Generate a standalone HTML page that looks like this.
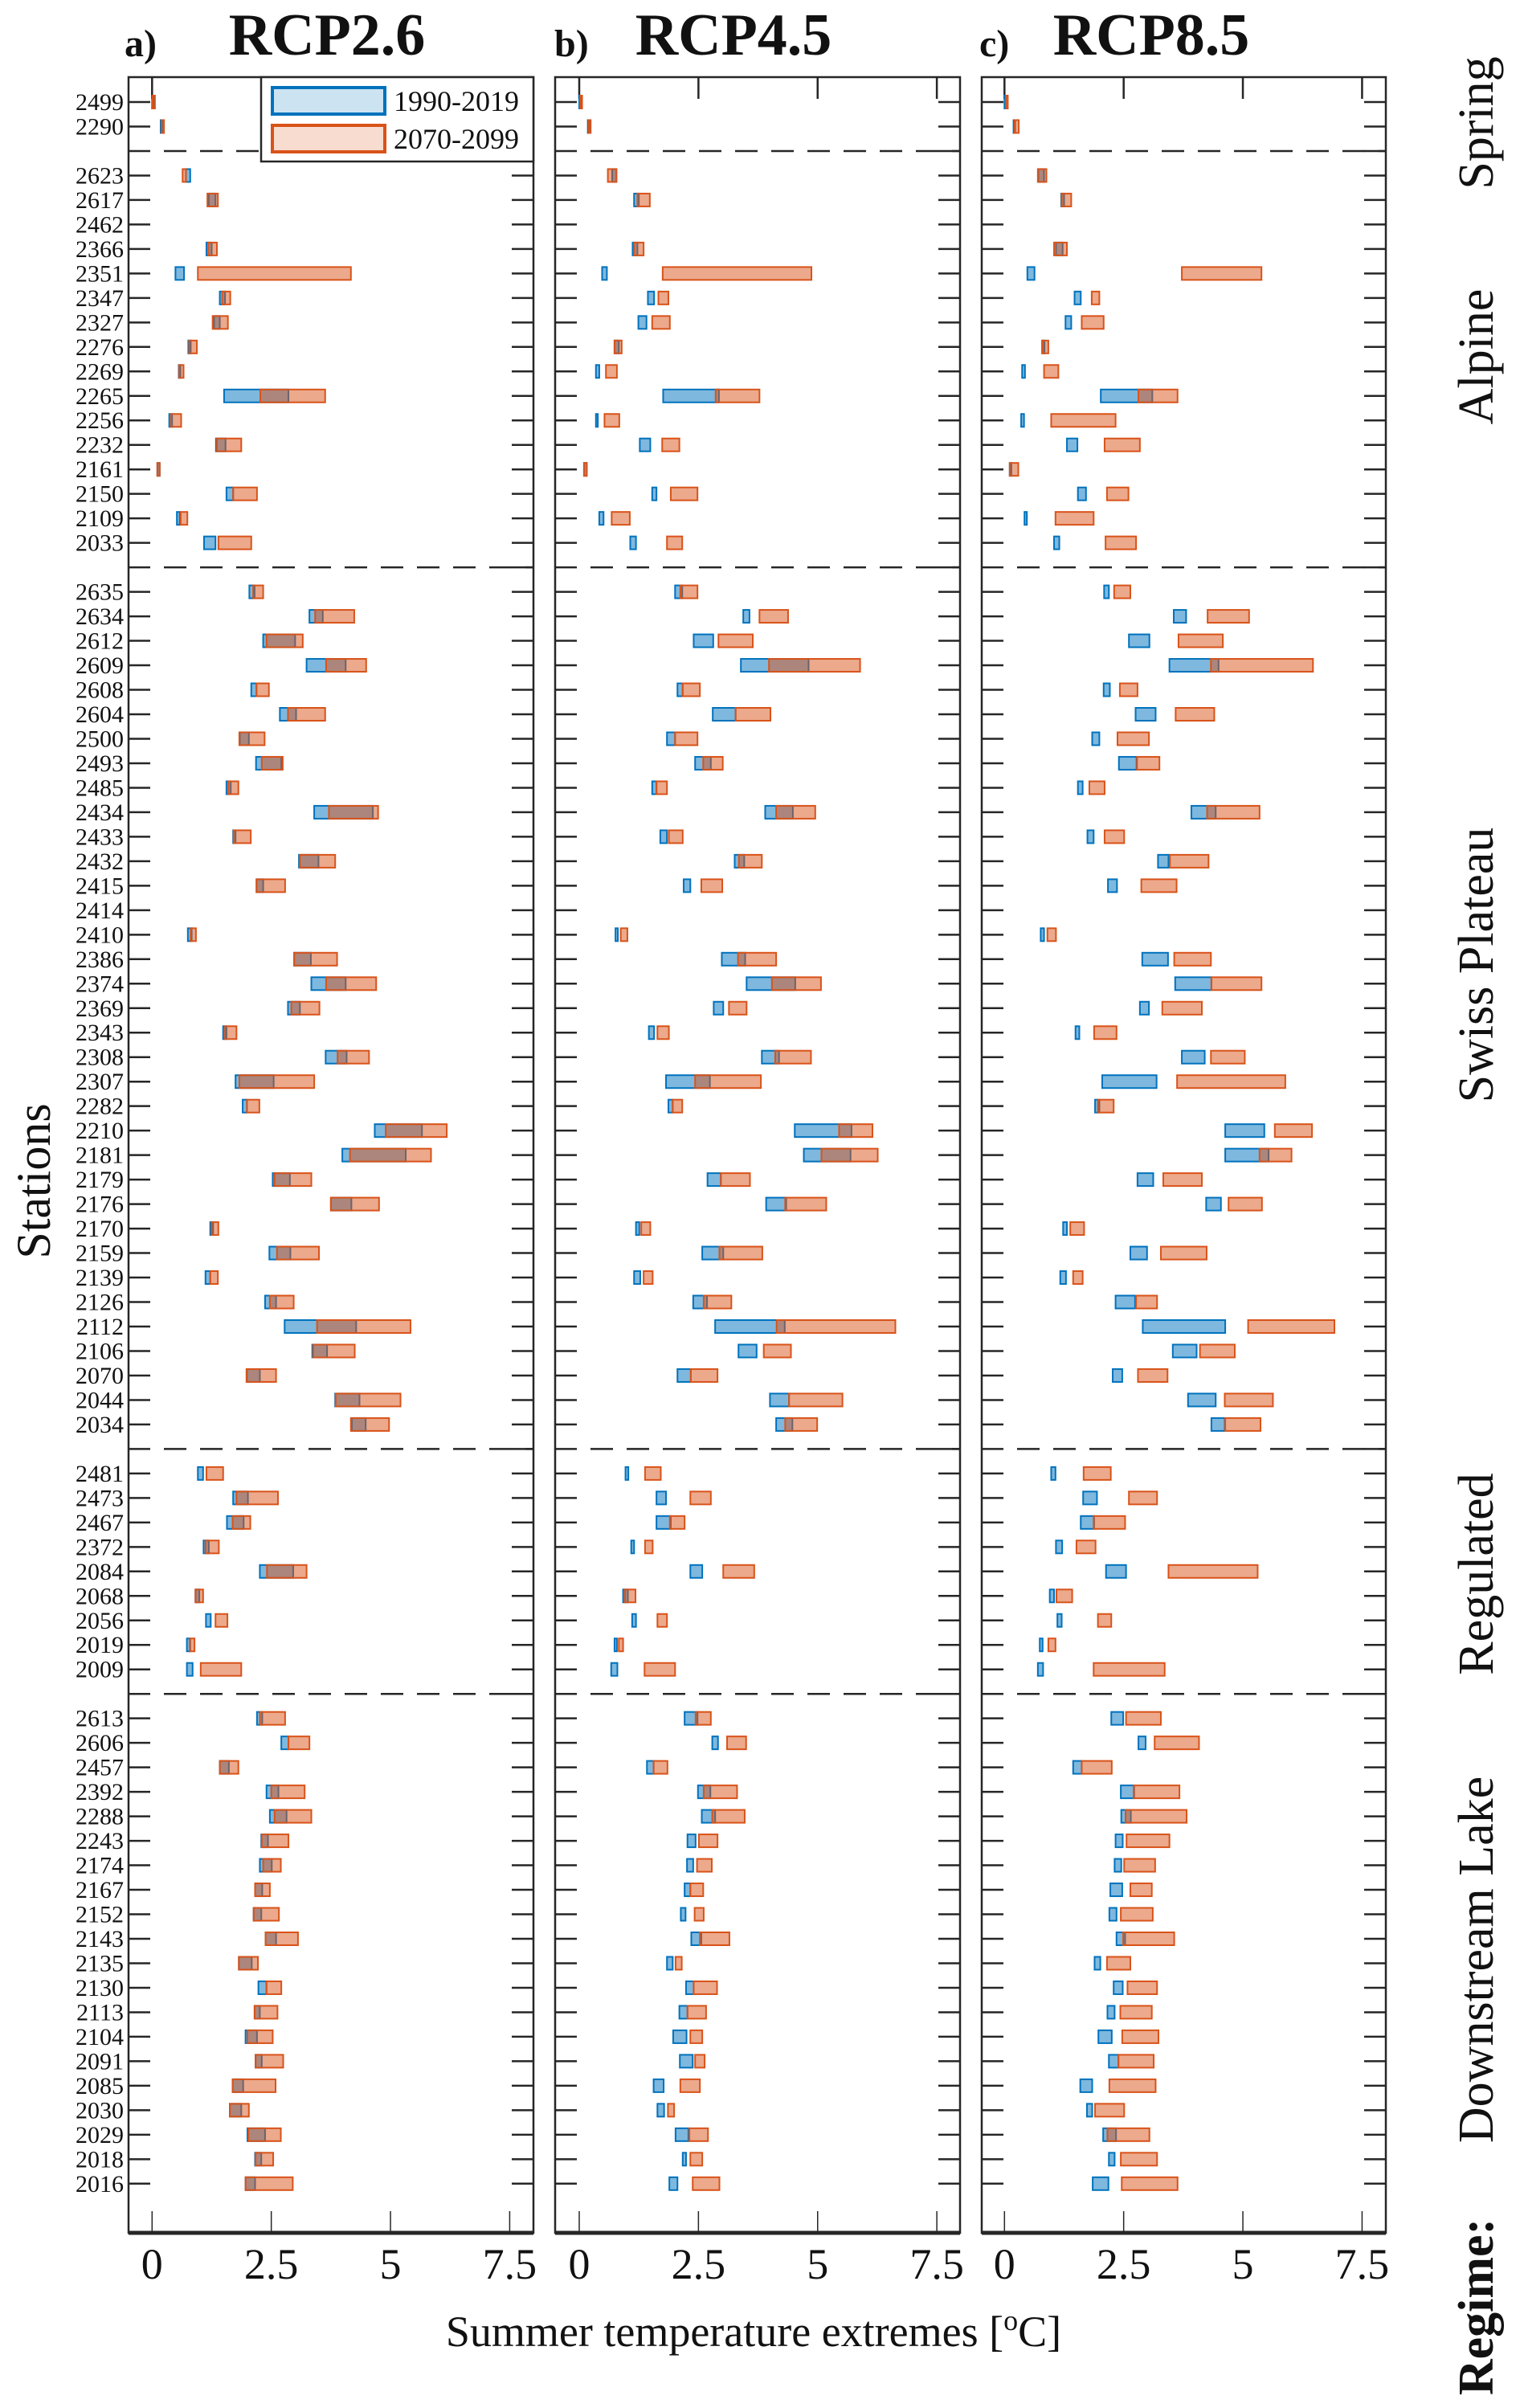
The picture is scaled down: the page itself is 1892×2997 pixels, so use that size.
<!DOCTYPE html>
<html><head><meta charset="utf-8">
<style>
html,body{margin:0;padding:0;background:#fff;}
svg{display:block;}
svg text{font-family:"Liberation Serif","Times New Roman",serif;fill:#111;}
</style></head>
<body>
<svg id="chart" width="1892" height="2997" viewBox="0 0 1892 2997" xmlns="http://www.w3.org/2000/svg" font-family="Liberation Serif, serif">
</svg>
<script>
const stations = ["2499","2290","","2623","2617","2462","2366","2351","2347","2327","2276","2269","2265","2256","2232","2161","2150","2109","2033","",
"2635","2634","2612","2609","2608","2604","2500","2493","2485","2434","2433","2432","2415","2414","2410","2386","2374","2369","2343","2308","2307","2282","2210","2181","2179","2176","2170","2159","2139","2126","2112","2106","2070","2044","2034","",
"2481","2473","2467","2372","2084","2068","2056","2019","2009","",
"2613","2606","2457","2392","2288","2243","2174","2167","2152","2143","2135","2130","2113","2104","2091","2085","2030","2029","2018","2016"];
const xTicks = [0, 2.5, 5, 7.5];
const xTickLabels = ["0","2.5","5","7.5"];
const regimes = ["Spring","Alpine","Swiss Plateau","Regulated","Downstream Lake"];

// RCP2.6
const a_bLo=[0,.18,null,.71,1.19,null,1.14,.49,1.42,1.3,.76,.56,1.51,.36,1.34,.11,1.56,.52,1.09,null,
2.04,3.3,2.33,3.24,2.08,2.68,1.84,2.18,1.56,3.4,1.7,3.08,2.19,null,.75,2.98,3.34,2.85,1.49,3.64,1.75,1.9,4.67,3.99,2.53,3.75,1.22,2.46,1.12,2.37,2.78,3.36,1.99,3.84,4.19,null,
.96,1.7,1.57,1.08,2.26,.91,1.13,.73,.73,null,
2.2,2.71,1.42,2.4,2.47,2.29,2.26,2.16,2.13,2.38,1.82,2.23,2.15,1.96,2.17,1.69,1.63,2.0,2.16,1.96];
const a_bHi=[.03,.2,null,.8,1.33,null,1.25,.67,1.53,1.42,.81,.58,2.86,.42,1.54,.16,1.7,.58,1.33,null,
2.15,3.58,3.0,4.06,2.19,3.02,2.03,2.71,1.65,4.63,1.75,3.49,2.33,null,.83,3.33,4.06,3.1,1.56,4.08,2.55,1.99,5.66,5.32,2.89,4.18,1.28,2.9,1.22,2.6,4.28,3.67,2.26,4.35,4.48,null,
1.07,2.01,1.92,1.19,2.96,.99,1.23,.8,.85,null,
2.31,2.86,1.61,2.65,2.82,2.43,2.51,2.31,2.29,2.6,2.09,2.4,2.26,2.2,2.3,1.91,1.87,2.37,2.29,2.16];
const a_oLo=[.01,.2,null,.64,1.16,null,1.18,.96,1.47,1.27,.78,.57,2.27,.4,1.36,.11,1.7,.6,1.39,null,
2.12,3.42,2.4,3.65,2.19,2.85,1.83,2.3,1.6,3.71,1.71,3.1,2.19,null,.81,2.98,3.65,2.92,1.53,3.89,1.83,1.99,4.9,4.15,2.57,3.75,1.25,2.62,1.22,2.47,3.46,3.38,1.98,3.85,4.17,null,
1.14,1.77,1.69,1.12,2.41,.91,1.33,.79,1.02,null,
2.26,2.86,1.42,2.5,2.57,2.3,2.33,2.16,2.13,2.38,1.82,2.4,2.15,2.0,2.17,1.69,1.63,2.02,2.17,1.96];
const a_oHi=[.06,.25,null,.71,1.38,null,1.36,4.17,1.64,1.59,.94,.66,3.63,.61,1.87,.16,2.2,.74,2.08,null,
2.33,4.24,3.16,4.49,2.45,3.63,2.36,2.74,1.81,4.74,2.07,3.84,2.79,null,.92,3.88,4.7,3.51,1.77,4.55,3.4,2.25,6.18,5.85,3.34,4.76,1.39,3.5,1.38,2.97,5.42,4.25,2.6,5.21,4.97,null,
1.49,2.64,2.06,1.4,3.24,1.07,1.58,.89,1.87,null,
2.79,3.3,1.81,3.2,3.34,2.86,2.7,2.47,2.66,3.06,2.22,2.71,2.63,2.53,2.75,2.59,2.03,2.7,2.54,2.95];

// RCP4.5
const b_bLo=[0,.18,null,.69,1.15,null,1.12,.48,1.44,1.24,.74,.35,1.76,.35,1.27,.1,1.53,.42,1.07,null,
2.01,3.44,2.4,3.39,2.06,2.8,1.84,2.43,1.53,3.9,1.7,3.26,2.19,null,.76,2.99,3.51,2.82,1.46,3.83,1.82,1.87,4.52,4.71,2.69,3.92,1.19,2.58,1.15,2.39,2.85,3.34,2.06,4.0,4.13,null,
.97,1.62,1.62,1.09,2.33,.92,1.11,.74,.67,null,
2.21,2.79,1.42,2.49,2.57,2.27,2.26,2.21,2.13,2.35,1.84,2.24,2.1,1.97,2.11,1.56,1.64,2.02,2.17,1.89];
const b_bHi=[.03,.21,null,.78,1.25,null,1.22,.58,1.57,1.41,.83,.42,2.93,.39,1.49,.16,1.62,.51,1.19,null,
2.16,3.57,2.81,4.81,2.17,3.28,2.01,2.76,1.62,4.48,1.84,3.46,2.33,null,.81,3.48,4.53,3.02,1.57,4.19,2.74,1.96,5.71,5.69,2.97,4.34,1.26,3.02,1.28,2.68,4.31,3.72,2.34,4.4,4.47,null,
1.03,1.82,1.92,1.15,2.58,1.02,1.19,.79,.8,null,
2.48,2.91,1.56,2.75,2.85,2.44,2.39,2.33,2.23,2.56,1.96,2.4,2.27,2.25,2.38,1.77,1.78,2.29,2.24,2.06];
const b_oLo=[.02,.2,null,.6,1.22,null,1.15,1.75,1.66,1.53,.74,.56,2.86,.53,1.74,.1,1.92,.68,1.84,null,
2.12,3.78,2.92,3.98,2.17,3.28,2.01,2.6,1.62,4.13,1.88,3.35,2.56,null,.87,3.33,4.04,3.14,1.64,4.11,2.43,1.96,5.45,5.08,2.97,4.32,1.3,2.94,1.35,2.61,4.14,3.87,2.34,4.4,4.32,null,
1.38,2.33,1.9,1.38,3.02,.96,1.64,.83,1.37,null,
2.44,3.1,1.56,2.61,2.79,2.51,2.47,2.33,2.42,2.53,2.02,2.4,2.27,2.33,2.43,2.12,1.86,2.31,2.33,2.38];
const b_oHi=[.06,.24,null,.78,1.48,null,1.35,4.87,1.87,1.9,.89,.79,3.78,.84,2.1,.16,2.48,1.06,2.16,null,
2.48,4.38,3.64,5.89,2.53,4.01,2.48,3.01,1.84,4.95,2.17,3.83,3.0,null,1.01,4.13,5.07,3.51,1.88,4.86,3.81,2.16,6.15,6.26,3.58,5.18,1.49,3.84,1.54,3.19,6.63,4.44,2.9,5.52,4.99,null,
1.71,2.76,2.21,1.54,3.67,1.18,1.84,.92,2.01,null,
2.76,3.5,1.85,3.31,3.47,2.9,2.78,2.6,2.61,3.15,2.15,2.89,2.66,2.58,2.63,2.53,1.99,2.7,2.58,2.94];

// RCP8.5
const c_bLo=[0,.19,null,.71,1.19,null,1.08,.48,1.47,1.28,.79,.37,2.02,.35,1.31,.11,1.54,.42,1.04,null,
2.09,3.55,2.61,3.46,2.08,2.75,1.84,2.4,1.54,3.92,1.74,3.22,2.17,null,.76,2.89,3.58,2.84,1.49,3.72,2.05,1.9,4.63,4.63,2.79,4.23,1.23,2.64,1.17,2.33,2.9,3.53,2.27,3.85,4.34,null,
.98,1.65,1.6,1.08,2.13,.95,1.11,.74,.7,null,
2.24,2.81,1.44,2.44,2.45,2.33,2.31,2.22,2.2,2.35,1.89,2.29,2.16,1.97,2.19,1.59,1.73,2.07,2.19,1.85];
const c_bHi=[.03,.22,null,.83,1.25,null,1.22,.63,1.6,1.4,.84,.43,3.1,.41,1.53,.14,1.71,.47,1.15,null,
2.19,3.81,3.04,4.49,2.21,3.17,1.99,2.77,1.64,4.43,1.87,3.44,2.36,null,.83,3.43,4.34,3.03,1.57,4.2,3.19,1.99,5.45,5.54,3.12,4.54,1.31,2.99,1.29,2.74,4.63,4.03,2.47,4.43,4.62,null,
1.07,1.94,1.88,1.21,2.55,1.04,1.2,.8,.81,null,
2.49,2.96,1.62,2.72,2.65,2.48,2.45,2.47,2.35,2.53,2.01,2.48,2.31,2.25,2.39,1.84,1.84,2.34,2.31,2.18];
const c_oLo=[.03,.21,null,.7,1.2,null,1.04,3.72,1.83,1.62,.8,.83,2.81,.98,2.1,.11,2.15,1.07,2.12,null,
2.3,4.26,3.65,4.33,2.42,3.59,2.37,2.78,1.78,4.25,2.1,3.47,2.87,null,.9,3.56,4.34,3.31,1.88,4.33,3.62,1.96,5.67,5.35,3.33,4.7,1.38,3.28,1.44,2.76,5.11,4.1,2.8,4.62,4.63,null,
1.66,2.61,1.87,1.51,3.44,1.09,1.96,.92,1.87,null,
2.55,3.15,1.62,2.71,2.54,2.56,2.51,2.64,2.44,2.49,2.15,2.58,2.43,2.47,2.39,2.2,1.9,2.16,2.44,2.46];
const c_oHi=[.07,.3,null,.88,1.4,null,1.31,5.39,1.99,2.08,.92,1.13,3.63,2.33,2.84,.29,2.6,1.87,2.76,null,
2.64,5.13,4.58,6.47,2.79,4.4,3.03,3.25,2.1,5.35,2.51,4.28,3.61,null,1.08,4.33,5.39,4.14,2.35,5.04,5.89,2.29,6.45,6.02,4.14,5.4,1.67,4.24,1.64,3.2,6.92,4.83,3.42,5.63,5.37,null,
2.23,3.2,2.53,1.91,5.31,1.42,2.24,1.07,3.36,null,
3.28,4.08,2.25,3.67,3.82,3.46,3.16,3.09,3.11,3.56,2.64,3.2,3.09,3.23,3.13,3.17,2.51,3.04,3.2,3.63];

const NS="http://www.w3.org/2000/svg";
const svg=document.getElementById('chart');
function mk(tag,attrs,parent){const e=document.createElementNS(NS,tag);for(const k in attrs)e.setAttribute(k,attrs[k]);(parent||svg).appendChild(e);return e;}

const TOP=96,BOTTOM=2779,ROW0=127,ROWH=30.48,UNIT=59.35;
const yScale=i=>ROW0+ROWH*i;
const panels=[
 {left:160,right:664,x0:189.3,letter:"a)",title:"RCP2.6",lx:155,tx:407,d:[a_bLo,a_bHi,a_oLo,a_oHi],id:"rcp26"},
 {left:691,right:1195,x0:721,letter:"b)",title:"RCP4.5",lx:690,tx:913,d:[b_bLo,b_bHi,b_oLo,b_oHi],id:"rcp45"},
 {left:1222,right:1725,x0:1250.3,letter:"c)",title:"RCP8.5",lx:1219,tx:1433,d:[c_bLo,c_bHi,c_oLo,c_oHi],id:"rcp85"}
];
const BLUE="#0072BD",ORANGE="#D95319",AX="#262626";

panels.forEach((p,pi)=>{
  const xs=v=>p.x0+UNIT*v;
  const g=mk('g',{});
  
  
  const lt=mk('text',{x:p.lx,y:70,'font-size':48,'font-weight':'bold'},g);lt.textContent=p.letter;
  
  
  const tt=mk('text',{x:p.tx,y:68,'font-size':74,'font-weight':'bold','text-anchor':'middle'},g);tt.textContent=p.title;
  
  
  stations.forEach((s,i)=>{
    const y=yScale(i);
    mk('line',{x1:p.left,x2:p.left+27,y1:y,y2:y,stroke:AX,'stroke-width':2.5},g);
    mk('line',{x1:p.right-27,x2:p.right,y1:y,y2:y,stroke:AX,'stroke-width':2.5},g);
    if(s===""){
      const dl=mk('line',{x1:p.left+44,x2:p.right,y1:y,y2:y,stroke:AX,'stroke-width':2.5,'stroke-dasharray':'28 17'},g);
      
      
    }
    if(pi===0&&s!==""){
      const tl=mk('text',{x:154,y:y+10,'font-size':30,'text-anchor':'end'},g);tl.textContent=s;
      
      
    }
  });
  xTicks.forEach((t,k)=>{
    const x=xs(t);
    mk('line',{x1:x,x2:x,y1:TOP,y2:TOP+27,stroke:AX,'stroke-width':2.5},g);
    mk('line',{x1:x,x2:x,y1:BOTTOM-27,y2:BOTTOM,stroke:AX,'stroke-width':1.5},g);
    const xl=mk('text',{x:x,y:2836,'font-size':54,'text-anchor':'middle'},g);xl.textContent=xTickLabels[k];
    
    
  });
  const [bLo,bHi,oLo,oHi]=p.d;
  stations.forEach((s,i)=>{
    if(s==="")return;
    const y=yScale(i);
    if(bLo[i]!=null){
      const r=mk('rect',{x:xs(bLo[i]),y:y-8,width:Math.max(xs(bHi[i])-xs(bLo[i]),2),height:16,fill:BLUE,'fill-opacity':0.5,stroke:BLUE,'stroke-width':2},g);
      
      
    }
    if(oLo[i]!=null){
      const r=mk('rect',{x:xs(oLo[i]),y:y-8,width:Math.max(xs(oHi[i])-xs(oLo[i]),2),height:16,fill:ORANGE,'fill-opacity':0.5,stroke:ORANGE,'stroke-width':2},g);
      
      
    }
  });
  const fr=mk('rect',{x:p.left,y:TOP,width:p.right-p.left,height:BOTTOM-TOP,fill:'none',stroke:AX,'stroke-width':2.5},g);
  
  
  mk('line',{x1:p.left,x2:p.right,y1:BOTTOM,y2:BOTTOM,stroke:AX,'stroke-width':5},g);
});

const lg=mk('g',{});


mk('rect',{x:325,y:96,width:339,height:105,fill:'#fff',stroke:AX,'stroke-width':2.5},lg);
const ls1=mk('rect',{x:339,y:109,width:140,height:33,fill:'#cce3f2',stroke:BLUE,'stroke-width':4},lg);


const lt1=mk('text',{x:490,y:138,'font-size':36},lg);lt1.textContent="1990-2019";
const ls2=mk('rect',{x:339,y:156,width:140,height:33,fill:'#f7dccf',stroke:ORANGE,'stroke-width':4},lg);


const lt2=mk('text',{x:490,y:185,'font-size':36},lg);lt2.textContent="2070-2099";

const yl=mk('text',{x:0,y:0,'font-size':60,'text-anchor':'middle',transform:'translate(62,1470) rotate(-90)'});
yl.textContent="Stations";


const xl=mk('text',{x:938,y:2920,'font-size':54,'text-anchor':'middle'});


const t1=mk('tspan',{},xl);t1.textContent="Summer temperature extremes [";
const t2=mk('tspan',{dy:-20,'font-size':36},xl);t2.textContent="o";
const t3=mk('tspan',{dy:20},xl);t3.textContent="C]";

const regY=[153,444,1201,1959,2439];
regimes.forEach((r,k)=>{
  const t=mk('text',{x:0,y:0,'font-size':62,'text-anchor':'middle',transform:'translate(1858,'+regY[k]+') rotate(-90)'});
  t.textContent=r;
  
  
});
const rg=mk('text',{x:0,y:0,'font-size':62,'font-weight':'bold','text-anchor':'middle',transform:'translate(1858,2871) rotate(-90)'});
rg.textContent="Regime:";


</script>
</body></html>
